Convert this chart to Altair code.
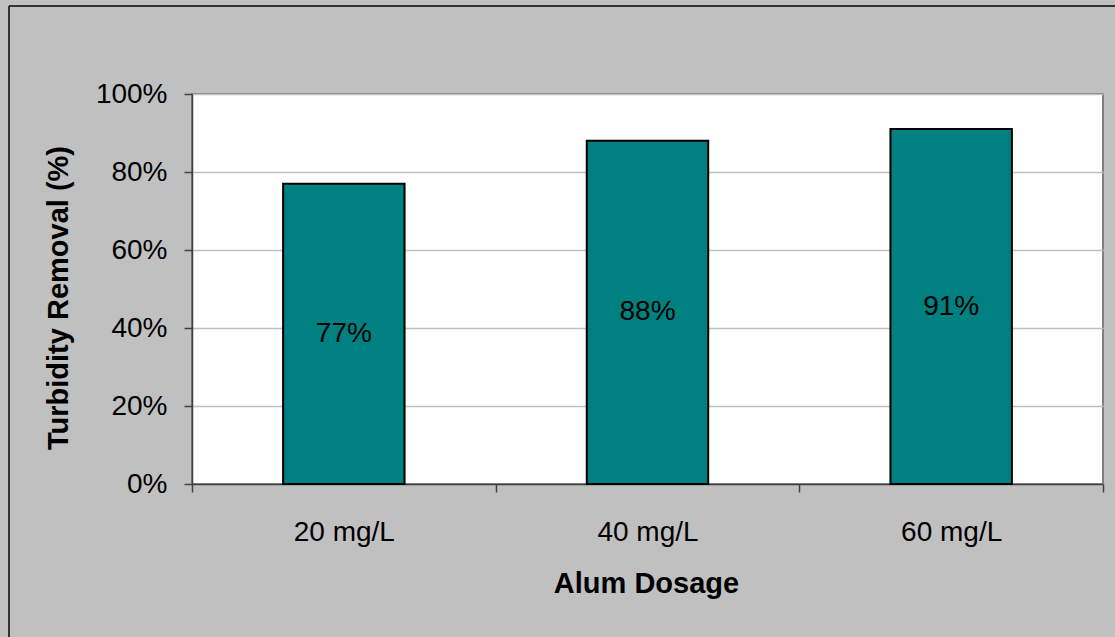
import altair as alt
import pandas as pd

# Turbidity removal by alum dosage
dosage = ["20 mg/L", "40 mg/L", "60 mg/L"]
removal = [0.77, 0.88, 0.91]
y_ticks = [0, 0.2, 0.4, 0.6, 0.8, 1.0]

df = pd.DataFrame({"dosage": dosage, "removal": removal})

FONT = "Liberation Sans"
AXIS_DARK = "#404040"

x_enc = alt.X(
    "dosage:N",
    sort=dosage,
    title="Alum Dosage",
    scale=alt.Scale(paddingInner=0, paddingOuter=0),
    axis=alt.Axis(
        labelAngle=0,
        tickBand="extent",
        tickSize=8,
        labelPadding=48,
        labelBaseline="alphabetic",
        grid=False,
        titleX=454,
        titleY=108,
        titleBaseline="alphabetic",
        titleAlign="center",
    ),
)

y_enc = alt.Y(
    "removal:Q",
    title="Turbidity Removal (%)",
    scale=alt.Scale(domain=[0, 1], nice=False),
    axis=alt.Axis(
        values=y_ticks,
        format=".0%",
        tickSize=8,
        labelPadding=17,
        grid=True,
        gridColor="#C0C0C0",
        gridWidth=1.5,
        titleAngle=270,
        titleX=-125,
        titleY=203.5,
        titleAlign="center",
        titleBaseline="alphabetic",
    ),
)

bars = alt.Chart(df).mark_bar(
    color="#008080",
    stroke="#000000",
    strokeWidth=2,
    width=alt.RelativeBandSize(0.4),
).encode(x=x_enc, y=y_enc)

labels = alt.Chart(df).transform_calculate(
    mid="datum.removal / 2"
).mark_text(
    font=FONT, fontSize=28, color="#000000", baseline="middle", align="center"
).encode(
    x=alt.X("dosage:N", sort=dosage),
    y=alt.Y("mid:Q"),
    text=alt.Text("removal:Q", format=".0%"),
)

# Outer frame of the chart area (top and left edges)
frame_data = alt.Data(values=[{"k": 0}])
frame_top = alt.Chart(frame_data).mark_rule(color="#333333", strokeWidth=2).encode(
    x=alt.value(-183), x2=alt.value(923), y=alt.value(-88)
)
frame_left = alt.Chart(frame_data).mark_rule(color="#333333", strokeWidth=2).encode(
    x=alt.value(-183), y=alt.value(-88), y2=alt.value(543)
)

chart = (
    alt.layer(bars, labels, frame_top, frame_left)
    .properties(
        width=911,
        height=390,
        padding={"left": 192, "top": 94, "right": 12, "bottom": 153},
        autosize=alt.AutoSizeParams(type="none"),
        background="#C0C0C0",
    )
    .configure_view(fill="#FFFFFF", stroke="#808080", strokeWidth=2)
    .configure_axis(
        domainColor=AXIS_DARK,
        domainWidth=1.5,
        tickColor=AXIS_DARK,
        tickWidth=1.5,
        labelFont=FONT,
        labelFontSize=28,
        labelColor="#000000",
        titleFont=FONT,
        titleFontSize=29,
        titleFontWeight="bold",
        titleColor="#000000",
        zindex=1,
    )
)

chart.save("out.html", embed_options={"renderer": "svg", "actions": False})
